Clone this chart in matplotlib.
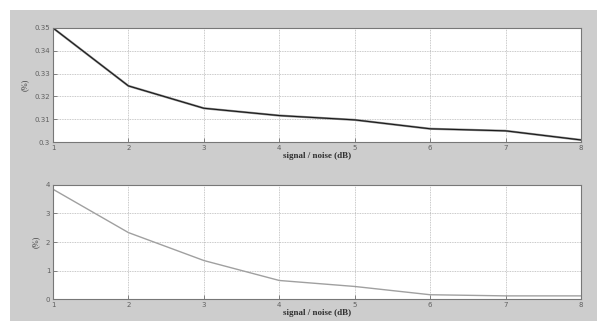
import matplotlib

matplotlib.use("Agg")
import matplotlib.pyplot as plt
from matplotlib.patches import Rectangle

snr_db = [1, 2, 3, 4, 5, 6, 7, 8]
top_err = [0.350, 0.3246, 0.3148, 0.3116, 0.3097, 0.3058, 0.3049, 0.3009]
bottom_err = [3.85, 2.33, 1.35, 0.65, 0.44, 0.15, 0.11, 0.11]

top_ticks = [0.30, 0.31, 0.32, 0.33, 0.34, 0.35]
top_ticklabels = ["0.3", "0.31", "0.32", "0.33", "0.34", "0.35"]
bottom_ticks = [0, 1, 2, 3, 4]

fig = plt.figure(figsize=(5.97, 3.21), dpi=100, facecolor="white")
# matlab-style grey panel behind the axes
fig.patches.append(Rectangle((0.0168, 0.0), 1.0, 0.9688, transform=fig.transFigure,
                             facecolor="#cdcdcd", edgecolor="none", zorder=-10))

ax1 = fig.add_axes([0.0888, 0.5576, 0.8844, 0.3552])
ax2 = fig.add_axes([0.0888, 0.0685, 0.8844, 0.3552])

ax1.plot(snr_db, top_err, color="#909090", lw=1.6)
ax1.plot(snr_db, top_err, color="#1a1a1a", lw=0.8)
ax1.set_ylim(0.30, 0.35)
ax1.set_yticks(top_ticks)
ax1.set_yticklabels(top_ticklabels)

ax2.plot(snr_db, bottom_err, color="#a0a0a0", lw=1.0)
ax2.set_ylim(0, 4)
ax2.set_yticks(bottom_ticks)

for ax in (ax1, ax2):
    ax.set_facecolor("white")
    ax.set_xlim(1, 8)
    ax.set_xticks(snr_db)
    ax.grid(True, ls=(0, (1.2, 1.2)), color="#a8a8a8", lw=0.5)
    ax.tick_params(direction="in", length=3, width=0.6, colors="#707070",
                   labelsize=5, labelcolor="#606060", pad=2)
    for s in ax.spines.values():
        s.set_color("#777777")
        s.set_linewidth(0.8)
    ax.set_xlabel("signal / noise (dB)", fontsize=6.5, fontweight="bold",
                  family="Liberation Serif", color="#303030", labelpad=1)
    ax.set_ylabel("(%)", fontsize=6, family="Liberation Serif", color="#404040",
                  labelpad=4)

fig.savefig("out.png", dpi=100, facecolor="white")
